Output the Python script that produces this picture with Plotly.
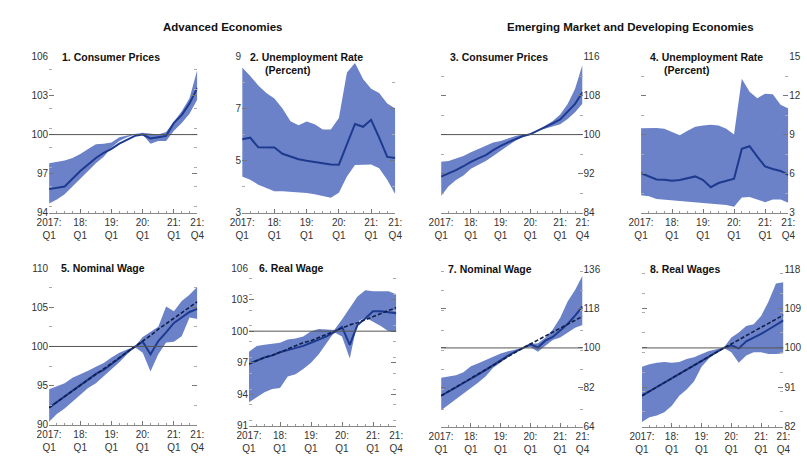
import plotly.graph_objects as go

# Quarterly sample, 2017:Q1 to 2021:Q4 (index 2019:Q4 = 100)
quarters = ["2017Q1", "2017Q2", "2017Q3", "2017Q4", "2018Q1", "2018Q2", "2018Q3", "2018Q4",
            "2019Q1", "2019Q2", "2019Q3", "2019Q4", "2020Q1", "2020Q2", "2020Q3", "2020Q4",
            "2021Q1", "2021Q2", "2021Q3", "2021Q4"]
tick_quarters = ["2017Q1", "2018Q1", "2019Q1", "2020Q1", "2021Q1", "2021Q4"]
tick_labels = ["2017:<br>Q1", "18:<br>Q1", "19:<br>Q1", "20:<br>Q1", "21:<br>Q1", "21:<br>Q4"]

# 1. Advanced economies, consumer prices
ae_cpi_med = [95.8, 95.9, 96.0, 96.6, 97.2, 97.7, 98.2, 98.6, 98.9, 99.3, 99.6, 99.9,
              100.0, 99.7, 99.8, 99.9, 100.9, 101.5, 102.4, 103.6]
ae_cpi_lo = [94.7, 95.0, 95.4, 96.0, 96.6, 97.2, 97.8, 98.3, 99.0, 99.5, 99.8, 100.0,
             100.0, 99.3, 99.5, 99.5, 100.3, 100.9, 101.6, 102.7]
ae_cpi_hi = [97.8, 97.9, 98.0, 98.2, 98.5, 98.9, 99.25, 99.3, 99.4, 99.8, 99.95, 100.05,
             100.15, 100.1, 100.0, 100.2, 101.0, 101.8, 102.8, 105.0]

# 2. Advanced economies, unemployment rate (percent)
ae_ur_med = [5.82, 5.88, 5.51, 5.5, 5.5, 5.26, 5.15, 5.05, 4.99, 4.95, 4.9, 4.85,
             4.84, 5.64, 6.41, 6.3, 6.57, 5.88, 5.14, 5.1]
ae_ur_lo = [4.39, 4.26, 4.07, 3.95, 3.82, 3.82, 3.8, 3.78, 3.75, 3.7, 3.64, 3.57,
            3.76, 4.39, 4.83, 4.85, 4.85, 4.7, 4.26, 3.7]
ae_ur_hi = [8.58, 8.26, 7.89, 7.6, 7.39, 7.0, 6.51, 6.36, 6.5, 6.4, 6.2, 6.2,
            6.64, 8.39, 8.76, 8.14, 7.76, 7.6, 7.2, 7.0]

# 3. Emerging market and developing economies, consumer prices
em_cpi_med = [91.4, 92.0, 92.7, 93.5, 94.4, 95.1, 95.8, 96.8, 97.7, 98.4, 99.1, 99.7,
              100.1, 100.8, 101.5, 102.3, 103.1, 104.7, 106.3, 108.7]
em_cpi_lo = [87.4, 89.4, 90.7, 91.6, 93.0, 93.8, 94.6, 95.6, 96.7, 97.8, 98.8, 99.5,
             99.9, 100.8, 101.2, 101.6, 102.1, 103.2, 104.6, 106.4]
em_cpi_hi = [94.4, 94.6, 95.1, 95.6, 96.4, 97.0, 97.7, 98.4, 98.7, 99.2, 99.7, 100.0,
             100.2, 100.9, 101.8, 102.8, 104.1, 106.3, 109.4, 114.4]

# 4. Emerging market and developing economies, unemployment rate (percent)
em_ur_med = [6.02, 5.8, 5.55, 5.53, 5.45, 5.5, 5.65, 5.78, 5.5, 4.95, 5.27, 5.45,
             5.6, 7.9, 8.1, 7.3, 6.55, 6.35, 6.2, 5.9]
em_ur_lo = [4.33, 4.25, 4.05, 4.0, 3.95, 3.9, 3.85, 3.78, 3.75, 3.7, 3.65, 3.58,
            3.45, 4.15, 4.2, 4.0, 3.8, 4.0, 4.0, 3.75]
em_ur_hi = [9.48, 9.5, 9.5, 9.45, 9.2, 8.95, 9.3, 9.6, 9.7, 9.75, 9.7, 9.45,
            9.0, 13.3, 12.3, 11.8, 12.15, 12.1, 11.3, 11.0]

# 5. Advanced economies, nominal wage
ae_nw_med = [92.2, 92.9, 93.6, 94.3, 95.0, 95.8, 96.5, 97.0, 97.7, 98.5, 99.3, 100.0,
             100.6, 99.0, 100.7, 101.8, 103.0, 103.7, 104.4, 104.8]
ae_nw_trend = [92.2, 92.9, 93.6, 94.3, 95.0, 95.7, 96.4, 97.1, 97.8, 98.5, 99.3, 100.0,
               100.7, 101.4, 102.2, 102.9, 103.6, 104.3, 105.0, 105.7]
ae_nw_lo = [90.4, 91.4, 92.1, 93.0, 93.8, 94.7, 95.3, 96.2, 97.0, 98.0, 99.0, 99.9,
            99.2, 96.8, 99.0, 100.5, 100.6, 101.3, 103.7, 103.5]
ae_nw_hi = [94.55, 94.9, 95.3, 96.0, 96.4, 96.9, 97.4, 97.9, 98.6, 99.2, 99.6, 100.0,
            101.2, 101.8, 102.5, 105.1, 104.5, 105.8, 106.6, 107.6]

# 6. Advanced economies, real wage
ae_rw_med = [96.9, 97.2, 97.5, 97.7, 98.0, 98.2, 98.4, 98.6, 98.9, 99.2, 99.5, 99.9,
             100.4, 98.7, 100.6, 101.2, 101.9, 101.9, 101.8, 101.7]
ae_rw_trend = [96.9, 97.2, 97.5, 97.7, 98.0, 98.3, 98.6, 98.9, 99.1, 99.4, 99.7, 100.0,
               100.3, 100.6, 100.8, 101.1, 101.4, 101.7, 102.0, 102.25]
ae_rw_lo = [93.25, 93.7, 94.2, 94.5, 94.6, 95.7, 95.9, 96.4, 97.0, 97.8, 98.9, 99.9,
            99.5, 97.4, 100.9, 101.3, 100.9, 100.5, 100.0, 100.0]
ae_rw_hi = [98.04, 98.6, 98.7, 98.8, 98.9, 99.2, 99.3, 99.5, 100.0, 100.2, 100.15, 100.1,
            101.1, 102.2, 103.3, 103.9, 103.8, 103.8, 103.8, 103.5]

# 7. Emerging market and developing economies, nominal wage
em_nw_med = [78.2, 80.0, 82.0, 84.0, 85.8, 87.9, 90.0, 92.3, 94.5, 96.5, 98.3, 100.0,
             101.6, 100.2, 103.3, 105.0, 107.9, 110.9, 114.7, 119.0]
em_nw_trend = [78.2, 80.2, 82.2, 84.2, 86.2, 88.2, 90.2, 92.2, 94.2, 96.1, 98.0, 100.0,
               101.8, 103.6, 105.4, 107.2, 109.0, 110.8, 112.6, 114.4]
em_nw_lo = [71.6, 74.1, 76.8, 79.0, 81.5, 84.2, 87.1, 90.9, 93.4, 96.0, 98.3, 99.8,
            100.4, 98.3, 101.0, 103.6, 104.7, 107.0, 109.2, 110.5]
em_nw_hi = [86.4, 86.8, 87.5, 88.9, 91.6, 93.0, 94.5, 96.0, 97.5, 98.5, 99.3, 100.0,
            101.8, 102.1, 104.6, 108.4, 113.8, 121.2, 126.4, 133.0]

# 8. Emerging market and developing economies, real wages
em_rw_med = [89.1, 90.1, 91.1, 92.1, 93.1, 94.1, 95.1, 96.1, 97.1, 98.0, 99.0, 100.0,
             100.6, 99.9, 101.5, 102.3, 103.2, 104.2, 105.2, 106.3]
em_rw_trend = [89.1, 90.1, 91.1, 92.1, 93.1, 94.1, 95.1, 96.1, 97.1, 98.0, 99.0, 100.0,
               100.9, 101.9, 102.8, 103.8, 104.7, 105.6, 106.6, 107.5]
em_rw_lo = [83.1, 84.2, 84.6, 85.3, 86.8, 89.1, 90.5, 92.4, 95.7, 97.6, 99.0, 100.0,
            99.0, 96.6, 98.3, 99.0, 99.0, 98.6, 98.6, 98.8]
em_rw_hi = [95.7, 96.3, 96.6, 96.8, 96.6, 96.8, 97.5, 97.9, 98.6, 99.3, 99.7, 100.1,
            102.4, 103.5, 105.0, 105.4, 107.3, 110.6, 114.7, 115.0]

FONT = "Liberation Sans, Arial, sans-serif"
BAND = "#6b82c8"
MEDIAN = "#1d3a8f"
TREND = "#10204a"
W, H = 807, 464

# panel: title lines, series, y range, y dtick, axis side, reference line, trend, plot box (px)
panels = [
    dict(title=["1. Consumer Prices"], med=ae_cpi_med, lo=ae_cpi_lo, hi=ae_cpi_hi, trend=None,
         yr=[94, 106], dt=3, side="left", ref=True, box=(37, 189, 52, 212), tx=48),
    dict(title=["2. Unemployment Rate", "(Percent)"], med=ae_ur_med, lo=ae_ur_lo, hi=ae_ur_hi, trend=None,
         yr=[3, 9], dt=2, side="left", ref=False, box=(235, 392, 52, 212), tx=241),
    dict(title=["3. Consumer Prices"], med=em_cpi_med, lo=em_cpi_lo, hi=em_cpi_hi, trend=None,
         yr=[84, 116], dt=8, side="right", ref=True, box=(439, 584, 52, 212), tx=446),
    dict(title=["4. Unemployment Rate", "(Percent)"], med=em_ur_med, lo=em_ur_lo, hi=em_ur_hi, trend=None,
         yr=[3, 15], dt=3, side="right", ref=False, box=(644, 795, 52, 212), tx=651),
    dict(title=["5. Nominal Wage"], med=ae_nw_med, lo=ae_nw_lo, hi=ae_nw_hi, trend=ae_nw_trend,
         yr=[90, 110], dt=5, side="left", ref=True, box=(37, 189, 269, 430), tx=47),
    dict(title=["6. Real Wage"], med=ae_rw_med, lo=ae_rw_lo, hi=ae_rw_hi, trend=ae_rw_trend,
         yr=[91, 106], dt=3, side="left", ref=True, box=(242, 393, 269, 431), tx=250),
    dict(title=["7. Nominal Wage"], med=em_nw_med, lo=em_nw_lo, hi=em_nw_hi, trend=em_nw_trend,
         yr=[64, 136], dt=18, side="right", ref=True, box=(439, 584, 270, 432), tx=444),
    dict(title=["8. Real Wages"], med=em_rw_med, lo=em_rw_lo, hi=em_rw_hi, trend=em_rw_trend,
         yr=[82, 118], dt=9, side="right", ref=True, box=(645, 790, 270, 432), tx=651),
]

fig = go.Figure()
xs = list(range(len(quarters)))
tickpos = [quarters.index(q) for q in tick_quarters]
layout = {}
annotations = []
shapes = []

for i, p in enumerate(panels, start=1):
    xa, ya = ("x", "y") if i == 1 else (f"x{i}", f"y{i}")
    x0, x1, y0, y1 = p["box"]
    # shaded range: lower edge, then upper edge filled down to it
    fig.add_trace(go.Scatter(x=xs, y=p["lo"], xaxis=xa, yaxis=ya, mode="lines",
                             line=dict(width=0, color=BAND), hoverinfo="skip", showlegend=False))
    fig.add_trace(go.Scatter(x=xs, y=p["hi"], xaxis=xa, yaxis=ya, mode="lines", fill="tonexty",
                             fillcolor=BAND, line=dict(width=0, color=BAND), showlegend=False))
    fig.add_trace(go.Scatter(x=xs, y=p["med"], xaxis=xa, yaxis=ya, mode="lines",
                             line=dict(width=2, color=MEDIAN), showlegend=False))
    if p["trend"] is not None:
        fig.add_trace(go.Scatter(x=xs, y=p["trend"], xaxis=xa, yaxis=ya, mode="lines",
                                 line=dict(width=1.6, color=TREND, dash="4px,2px"), showlegend=False))
    if p["ref"]:
        shapes.append(dict(type="line", xref=f"{xa} domain", yref=ya, x0=0, x1=1, y0=100, y1=100,
                           line=dict(color="#555555", width=1), layer="above"))

    key = "" if i == 1 else str(i)
    layout[f"xaxis{key}"] = dict(
        domain=[x0 / W, x1 / W], anchor=ya, range=[0, len(quarters) - 1],
        tickvals=tickpos, ticktext=tick_labels, ticks="inside", ticklen=4, tickcolor="#777777",
        showline=True, linecolor="#888888", linewidth=1, showgrid=False, zeroline=False,
        minor=dict(dtick=1, ticks="inside", ticklen=2, tickcolor="#999999", showgrid=False),
        tickfont=dict(family=FONT, size=10, color="#333333"), fixedrange=True,
    )
    layout[f"yaxis{key}"] = dict(
        domain=[1 - y1 / H, 1 - y0 / H], anchor=xa, range=p["yr"], dtick=p["dt"], tick0=p["yr"][0],
        side=p["side"], ticks="inside", ticklen=5, tickcolor="#777777", mirror="ticks",
        showline=False, showgrid=False, zeroline=False,
        minor=dict(dtick=p["dt"] / 2, ticks="inside", ticklen=3, tickcolor="#aaaaaa", showgrid=False),
        tickfont=dict(family=FONT, size=10, color="#333333"), fixedrange=True,
    )

    # panel title, top-left inside the plot area
    annotations.append(dict(text=f"<b>{p['title'][0]}</b>", xref="paper", yref="paper",
                            x=p["tx"] / W, y=1 - y0 / H, xanchor="left", yanchor="middle",
                            showarrow=False, font=dict(family=FONT, size=10.5, color="#111111")))
    if len(p["title"]) > 1:
        annotations.append(dict(text=f"<b>{p['title'][1]}</b>", xref="paper", yref="paper",
                                x=(p["tx"] + 15) / W, y=1 - (y0 + 14) / H, xanchor="left", yanchor="middle",
                                showarrow=False, font=dict(family=FONT, size=10.5, color="#111111")))

# group headings
annotations.append(dict(text="<b>Advanced Economies</b>", xref="paper", yref="paper",
                        x=215 / W, y=1 - 22 / H, xanchor="center", yanchor="middle", showarrow=False,
                        font=dict(family=FONT, size=11.5, color="#111111")))
annotations.append(dict(text="<b>Emerging Market and Developing Economies</b>", xref="paper", yref="paper",
                        x=633 / W, y=1 - 22 / H, xanchor="center", yanchor="middle", showarrow=False,
                        font=dict(family=FONT, size=11.5, color="#111111")))

fig.update_layout(
    width=W, height=H, margin=dict(l=0, r=0, t=0, b=0),
    paper_bgcolor="white", plot_bgcolor="white", showlegend=False,
    annotations=annotations, shapes=shapes, **layout,
)

fig.write_html("out.html", config={"displayModeBar": False})
